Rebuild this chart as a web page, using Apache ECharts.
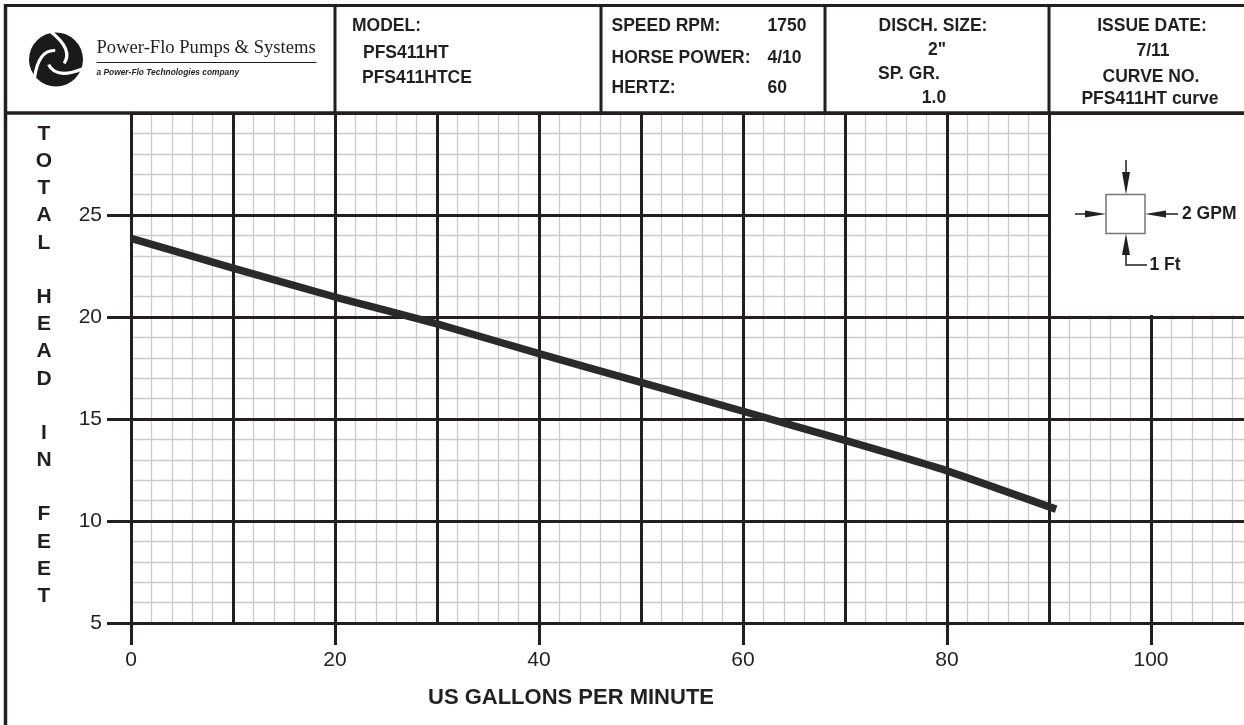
<!DOCTYPE html>
<html>
<head>
<meta charset="utf-8">
<script src="https://cdn.jsdelivr.net/npm/echarts@6/dist/echarts.min.js"></script>
<style>
html,body{margin:0;padding:0;background:#fff;}
#chart{width:1244px;height:725px;}
</style>
</head>
<body>
<div id="chart"></div>
<script>
// ---- data ----
var gpm  = [0, 10, 20, 30, 40, 50, 60, 70, 80, 90, 90.7];
var head = [23.85, 22.4, 20.98, 19.66, 18.2, 16.8, 15.38, 13.95, 12.46, 10.7, 10.58];
var xLabelStep = 20;            // labelled GPM ticks
var yLabelStep = 5;             // labelled feet ticks
var yTitleLetters = ['T','O','T','A','L','','H','E','A','D','','I','N','','F','E','E','T'];
var xTitle = 'US GALLONS PER MINUTE';
var modelLines = ['MODEL:', 'PFS411HT', 'PFS411HTCE'];
var specLabels = ['SPEED RPM:', 'HORSE POWER:', 'HERTZ:'];
var specValues = ['1750', '4/10', '60'];
var dischLines = ['DISCH. SIZE:', '2"', 'SP. GR.', '1.0'];
var issueLines = ['ISSUE DATE:', '7/11', 'CURVE NO.', 'PFS411HT curve'];
var companyName = 'Power-Flo Pumps & Systems';
var companySub = 'a Power-Flo Technologies company';
var scaleNotes = ['2 GPM', '1 Ft'];

// ---- styling ----
var INK = '#231f20';
var MINOR = '#cbcbcd';
var FONT = '"Liberation Sans", Arial, Helvetica, sans-serif';

var chart = echarts.init(document.getElementById('chart'), null, {renderer: 'canvas'});

var lineData = gpm.map(function (g, i) { return [g, head[i]]; });

function line(x1, y1, x2, y2, w, color, z) {
  return {type: 'line', z: z || 20, silent: true,
    shape: {x1: x1, y1: y1, x2: x2, y2: y2},
    style: {stroke: color || INK, lineWidth: w || 3}};
}
function txt(t, x, y, font, align, z) {
  return {type: 'text', z: z || 21, silent: true,
    style: {text: t, x: x, y: y, font: font, fill: INK, align: align || 'left', verticalAlign: 'middle'}};
}
var B175 = 'bold 17.5px ' + FONT;

var g = [];
// white box for the scale legend (covers grid)
g.push({type: 'rect', z: 15, silent: true, shape: {x: 1051, y: 115, width: 194, height: 200}, style: {fill: '#fff'}});
// frame
g.push(line(5, 5.5, 1244, 5.5, 3));
g.push(line(5.5, 4, 5.5, 725, 3.5));
g.push(line(4, 113, 1244, 113, 3.5));
g.push(line(335, 5, 335, 113, 3));
g.push(line(601, 5, 601, 113, 3));
g.push(line(825, 5, 825, 113, 3));
g.push(line(1049, 5, 1049, 113, 3));

// logo icon
g.push({type: 'circle', z: 20, silent: true, shape: {cx: 56, cy: 59.5, r: 27}, style: {fill: '#1a1a1a'}});
for (var k = 0; k < 3; k++) {
  var a0 = (-100 + 120 * k) * Math.PI / 180;
  var a1 = a0 + 70 * Math.PI / 180;
  var a2 = a0 + 125 * Math.PI / 180;
  g.push({type: 'bezierCurve', z: 21, silent: true,
    shape: {x1: 56 + 28 * Math.cos(a0), y1: 59.5 + 28 * Math.sin(a0),
            cpx1: 56 + 20 * Math.cos(a1), cpy1: 59.5 + 20 * Math.sin(a1),
            x2: 56 + 9 * Math.cos(a2), y2: 59.5 + 9 * Math.sin(a2)},
    style: {stroke: '#fff', lineWidth: 3.2, fill: null}});
}
g.push(txt(companyName, 96.5, 48, '18.6px "Liberation Serif", "Times New Roman", serif'));
g.push(line(96.5, 62.5, 316.5, 62.5, 1.2));
g.push(txt(companySub, 96.5, 72.5, 'italic bold 8.4px ' + FONT));

// model box
g.push(txt(modelLines[0], 352, 26.5, B175));
g.push(txt(modelLines[1], 363, 53, B175));
g.push(txt(modelLines[2], 362, 78.5, B175));
// spec box
var specY = [26, 58.5, 88.5];
for (var i = 0; i < 3; i++) {
  g.push(txt(specLabels[i], 611.5, specY[i], B175));
  g.push(txt(specValues[i], 767.5, specY[i], B175));
}
// discharge box
g.push(txt(dischLines[0], 933, 26, B175, 'center'));
g.push(txt(dischLines[1], 937, 50, B175, 'center'));
g.push(txt(dischLines[2], 878, 74, B175));
g.push(txt(dischLines[3], 934, 98, B175, 'center'));
// issue box
var issueY = [26, 51, 77, 99];
var issueX = [1152, 1153, 1151, 1150];
for (i = 0; i < 4; i++) g.push(txt(issueLines[i], issueX[i], issueY[i], B175, 'center'));

// scale legend symbol
g.push({type: 'rect', z: 20, silent: true, shape: {x: 1106, y: 194.5, width: 39, height: 39}, style: {fill: '#fff', stroke: '#777', lineWidth: 1.5}});
g.push(line(1126, 160, 1126, 176, 1.5));
g.push({type: 'polygon', z: 21, silent: true, shape: {points: [[1122, 172], [1130, 172], [1126, 194.5]]}, style: {fill: INK}});
g.push(line(1075, 214, 1090, 214, 1.5));
g.push({type: 'polygon', z: 21, silent: true, shape: {points: [[1085, 210.5], [1085, 217.5], [1106, 214]]}, style: {fill: INK}});
g.push(line(1162, 214, 1178, 214, 1.5));
g.push({type: 'polygon', z: 21, silent: true, shape: {points: [[1166, 210.5], [1166, 217.5], [1145, 214]]}, style: {fill: INK}});
g.push({type: 'polygon', z: 21, silent: true, shape: {points: [[1122, 255], [1130, 255], [1126, 233.5]]}, style: {fill: INK}});
g.push({type: 'polyline', z: 21, silent: true, shape: {points: [[1126, 250], [1126, 265], [1147, 265]]}, style: {stroke: INK, lineWidth: 1.5, fill: null}});
g.push(txt(scaleNotes[0], 1182, 214, B175));
g.push(txt(scaleNotes[1], 1149.5, 265, B175));

// axis titles
g.push({type: 'text', z: 21, silent: true,
  style: {text: yTitleLetters.join('\n'), x: 44, y: 120.5, font: 'bold 21px ' + FONT, lineHeight: 27.18,
    fill: INK, align: 'center', verticalAlign: 'top'}});
g.push(txt(xTitle, 571, 697.5, 'bold 22px ' + FONT, 'center'));

var gridDef = {left: 131, top: 113, width: 1122, height: 510, containLabel: false, outerBoundsMode: 'none'};

var option = {
  backgroundColor: '#ffffff',
  animation: false,
  grid: [gridDef],
  xAxis: [
    {type: 'value', gridIndex: 0, position: 'bottom', offset: 0, min: 0, max: 110, interval: 2, z: 0,
      axisLine: {show: false}, axisTick: {show: false}, axisLabel: {show: false},
      splitLine: {show: true, lineStyle: {color: MINOR, width: 1.3}}},
    {type: 'value', gridIndex: 0, position: 'bottom', offset: 0, min: 0, max: 110, interval: 10, z: 1,
      axisLine: {show: true, lineStyle: {color: INK, width: 3}}, axisTick: {show: false}, axisLabel: {show: false},
      splitLine: {show: true, lineStyle: {color: INK, width: 3}}},
    {type: 'value', gridIndex: 0, position: 'bottom', offset: 0, min: 0, max: 110, interval: xLabelStep, z: 2,
      axisLine: {show: false}, splitLine: {show: false},
      axisTick: {show: true, length: 22, lineStyle: {color: INK, width: 3}},
      axisLabel: {show: true, showMaxLabel: false, margin: 27, fontSize: 21, fontFamily: FONT, color: INK,
        formatter: function (v) { return v > 100 ? '' : String(v); }}}
  ],
  yAxis: [
    {type: 'value', gridIndex: 0, position: 'left', offset: 0, min: 5, max: 30, interval: 1, z: 0,
      axisLine: {show: false}, axisTick: {show: false}, axisLabel: {show: false},
      splitLine: {show: true, lineStyle: {color: MINOR, width: 1.3}}},
    {type: 'value', gridIndex: 0, position: 'left', offset: 0, min: 5, max: 30, interval: yLabelStep, z: 1,
      axisLine: {show: true, lineStyle: {color: INK, width: 3}},
      axisTick: {show: true, length: 24, lineStyle: {color: INK, width: 3}},
      axisLabel: {show: true, showMaxLabel: false, margin: 29, fontSize: 21, fontFamily: FONT, color: INK},
      splitLine: {show: true, lineStyle: {color: INK, width: 3}}}
  ],
  series: [{
    type: 'line', xAxisIndex: 0, yAxisIndex: 0, z: 5,
    data: lineData, showSymbol: false, symbol: 'none', smooth: 0.2,
    lineStyle: {color: '#2a2a2a', width: 7.5, cap: 'butt'}
  }],
  graphic: {elements: g}
};
chart.setOption(option);
</script>
</body>
</html>
